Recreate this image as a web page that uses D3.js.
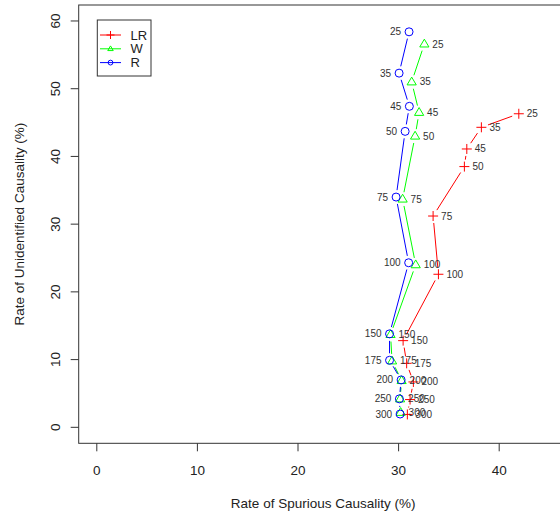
<!DOCTYPE html>
<html>
<head>
<meta charset="utf-8">
<script src="https://cdn.jsdelivr.net/npm/d3@7"></script>
<style>
  html, body { margin: 0; padding: 0; background: #fff; }
  svg { display: block; overflow: hidden; }
</style>
</head>
<body>
<div id="chart"></div>
<script>
// sample sizes shown next to each point
const sizes = [25, 35, 45, 50, 75, 100, 150, 175, 200, 250, 300];

// x = rate of spurious causality (%), y = rate of unidentified causality (%)
const lrX = [41.95, 38.23, 36.78, 36.54, 33.43, 33.96, 30.45, 30.8, 31.47, 31.14, 30.87];
const lrY = [46.3, 44.3, 41.1, 38.5, 31.2, 22.6, 12.8, 9.45, 6.7, 4.1, 1.9];
const wX = [32.56, 31.3, 32.04, 31.64, 30.4, 31.7, 29.2, 29.35, 30.3, 30.15, 30.2];
const wY = [56.6, 51.0, 46.5, 43.0, 33.7, 24.0, 13.7, 9.8, 6.9, 4.2, 2.2];
const rX = [31.04, 30.05, 31.07, 30.65, 29.75, 31.0, 29.1, 29.1, 30.25, 30.08, 30.15];
const rY = [58.4, 52.3, 47.4, 43.7, 34.0, 24.3, 13.8, 9.9, 7.0, 4.2, 1.96];

const xTicks = [0, 10, 20, 30, 40];
const yTicks = [0, 10, 20, 30, 40, 50, 60];

const series = [
  { name: 'LR', xs: lrX, ys: lrY, color: '#ff0000', shape: 'plus', side: 'right' },
  { name: 'W', xs: wX, ys: wY, color: '#00ff00', shape: 'tri', side: 'right' },
  { name: 'R', xs: rX, ys: rY, color: '#0000ff', shape: 'circle', side: 'left' },
];

const width = 560, height = 518;
const plotL = 78.7, plotT = 5, plotB = 443.3, plotR = 567.6;

const x = d3.scaleLinear().domain([-1.8, 46.8]).range([plotL, plotR]);
const y = d3.scaleLinear().domain([-2.36, 62.36]).range([plotB, plotT]);

const svg = d3.select('#chart').append('svg')
  .attr('width', width)
  .attr('height', height)
  .attr('font-family', 'Liberation Sans, Arial, Helvetica, sans-serif');

// marker drawing
function drawMarker(g, shape, color, s) {
  if (shape === 'plus') {
    g.append('path').attr('d', `M${-s},0H${s}M0,${-s}V${s}`)
      .attr('stroke', color).attr('stroke-width', 1).attr('fill', 'none');
  } else if (shape === 'tri') {
    const t = s * 0.92, h = t * 1.7;
    g.append('path')
      .attr('d', `M0,${-h * 0.62}L${t},${h * 0.38}L${-t},${h * 0.38}Z`)
      .attr('stroke', color).attr('stroke-width', 1).attr('fill', 'none');
  } else {
    g.append('circle').attr('r', s * 0.8)
      .attr('stroke', color).attr('stroke-width', 1).attr('fill', 'none');
  }
}

// lines with gaps around points (type = "b")
const gap = 7;
series.forEach(s => {
  const pts = s.xs.map((v, i) => [x(v), y(s.ys[i])]);
  const segs = [];
  for (let i = 0; i < pts.length - 1; i++) {
    const [x1, y1] = pts[i], [x2, y2] = pts[i + 1];
    const d = Math.hypot(x2 - x1, y2 - y1);
    if (d <= 2 * gap) continue;
    const ux = (x2 - x1) / d, uy = (y2 - y1) / d;
    segs.push([x1 + ux * gap, y1 + uy * gap, x2 - ux * gap, y2 - uy * gap]);
  }
  svg.append('g').selectAll('line').data(segs).join('line')
    .attr('x1', d => d[0]).attr('y1', d => d[1])
    .attr('x2', d => d[2]).attr('y2', d => d[3])
    .attr('stroke', s.color).attr('stroke-width', 1);

  pts.forEach((p, i) => {
    const g = svg.append('g').attr('transform', `translate(${p[0]},${p[1]})`);
    drawMarker(g, s.shape, s.color, 5);
    g.append('text')
      .attr('x', s.side === 'right' ? 8 : -8)
      .attr('dy', '0.35em')
      .attr('text-anchor', s.side === 'right' ? 'start' : 'end')
      .attr('font-size', '10px')
      .attr('fill', '#333')
      .text(sizes[i]);
  });
});

// box
svg.append('rect')
  .attr('x', plotL).attr('y', plotT)
  .attr('width', plotR - plotL).attr('height', plotB - plotT)
  .attr('fill', 'none').attr('stroke', '#333').attr('stroke-width', 1);

// x axis
const xa = svg.append('g');
xa.selectAll('line').data(xTicks).join('line')
  .attr('x1', d => x(d)).attr('x2', d => x(d))
  .attr('y1', plotB).attr('y2', plotB + 8)
  .attr('stroke', '#333');
xa.selectAll('text').data(xTicks).join('text')
  .attr('x', d => x(d)).attr('y', 475)
  .attr('text-anchor', 'middle').attr('font-size', '13.5px').attr('fill', '#222')
  .text(d => d);

// y axis
const ya = svg.append('g');
ya.selectAll('line').data(yTicks).join('line')
  .attr('x1', plotL - 8).attr('x2', plotL)
  .attr('y1', d => y(d)).attr('y2', d => y(d))
  .attr('stroke', '#333');
ya.selectAll('text').data(yTicks).join('text')
  .attr('transform', d => `translate(59.5,${y(d)}) rotate(-90)`)
  .attr('text-anchor', 'middle').attr('font-size', '13.5px').attr('fill', '#222')
  .text(d => d);

// axis titles
svg.append('text')
  .attr('x', (plotL + plotR) / 2).attr('y', 508)
  .attr('text-anchor', 'middle').attr('font-size', '13.5px').attr('fill', '#222')
  .text('Rate of Spurious Causality (%)');
svg.append('text')
  .attr('transform', `translate(24,${(plotT + plotB) / 2}) rotate(-90)`)
  .attr('text-anchor', 'middle').attr('font-size', '13.5px').attr('fill', '#222')
  .text('Rate of Unidentified Causality (%)');

// legend
const lg = svg.append('g');
lg.append('rect')
  .attr('x', 97.3).attr('y', 20).attr('width', 53.7).attr('height', 56)
  .attr('fill', '#fff').attr('stroke', '#333');
series.forEach((s, i) => {
  const ly = 35 + i * 13.8;
  lg.append('line').attr('x1', 100).attr('x2', 121)
    .attr('y1', ly).attr('y2', ly).attr('stroke', s.color);
  const g = lg.append('g').attr('transform', `translate(110.5,${ly})`);
  drawMarker(g, s.shape, s.color, s.shape === 'plus' ? 4 : 3);
  lg.append('text').attr('x', 130.5).attr('y', ly).attr('dy', '0.35em')
    .attr('font-size', '13px').attr('fill', '#222').text(s.name);
});
</script>
</body>
</html>
